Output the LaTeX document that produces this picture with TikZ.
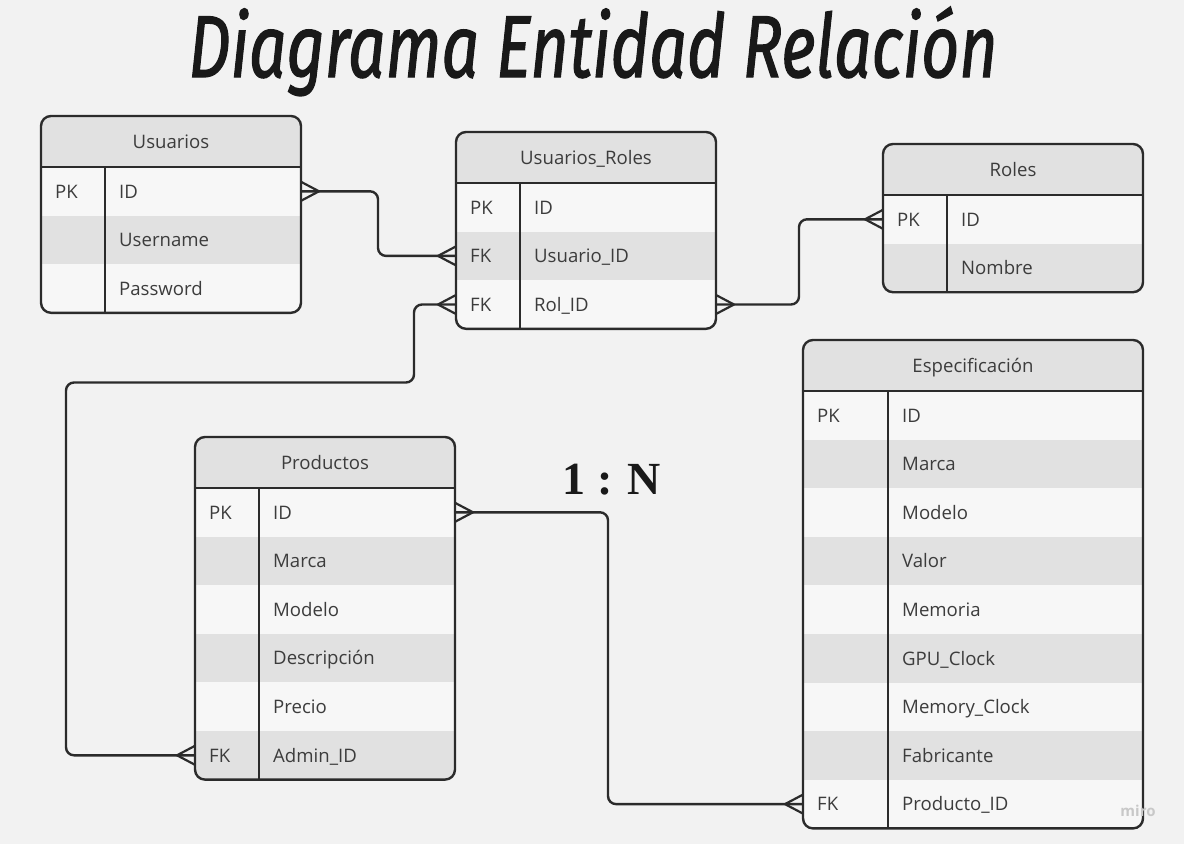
\documentclass[tikz,border=0pt]{standalone}
\usepackage{fontspec}
\setmainfont{Open Sans}
\newfontfamily\titlefont{Fira Sans}[ItalicFeatures={FakeBold=1.6}]
\newfontfamily\numfont{Liberation Serif}
\usetikzlibrary{calc}
\definecolor{bg}{HTML}{F2F2F2}
\definecolor{rowlight}{HTML}{F7F7F7}
\definecolor{rowgray}{HTML}{E1E1E1}
\definecolor{edge}{HTML}{2B2B2B}
\definecolor{ink}{HTML}{3C3C3C}
\definecolor{wm}{HTML}{C8C8C8}
\tikzset{
  tblborder/.style={draw=edge, line width=2.4pt, rounded corners=10pt},
  tblline/.style={draw=edge, line width=2.4pt},
  conn/.style={draw=edge, line width=2.4pt, rounded corners=8pt},
  foot/.style={draw=edge, line width=2.2pt, line join=round, line cap=round},
  txt/.style={text=ink, font=\fontsize{18.6}{22}\selectfont, inner sep=0pt},
  rowbox/.style={inner sep=0pt, outer sep=0pt, minimum height=48.6pt},
}
% name, x0, y0, width, divider offset, title, rows
\newcommand\ertable[7]{%
  \foreach \k/\f [count=\n] in {#7} {\xdef\nrows{\n}}
  \pgfmathsetmacro\tb{#3+51+48.6*\nrows}
  \begin{scope}
    \clip[rounded corners=10pt] (#2,#3) rectangle ({#2+#4},\tb);
    \fill[rowlight] (#2,#3) rectangle ({#2+#4},\tb);
    \fill[rowgray] (#2,#3) rectangle ({#2+#4},{#3+51});
    \foreach \k/\f [count=\i] in {#7} {
      \ifodd\i\relax\else
        \fill[rowgray] (#2,{#3+51+48.6*(\i-1)}) rectangle ({#2+#4},{#3+51+48.6*\i});
      \fi
    }
  \end{scope}
  \node[txt, anchor=base] (#1) at ({#2+#4/2},{#3+25.5+6.8}) {#6};
  \foreach \k/\f [count=\i] in {#7} {
    \node[rowbox, minimum width=#4pt, anchor=north west] (#1-\i) at (#2,{#3+51+48.6*(\i-1)}) {};
    \node[txt, anchor=base west] (#1-\i-key) at ($(#1-\i.west)+(14,6.8)$) {\k};
    \node[txt, anchor=base west] (#1-\i-field) at ($(#1-\i.west)+(#5+14,6.8)$) {\f};
  }
  \draw[tblline] ({#2+#5},{#3+51}) -- ({#2+#5},\tb);
  \draw[tblline] (#2,{#3+51}) -- ({#2+#4},{#3+51});
  \draw[tblborder] (#2,#3) rectangle ({#2+#4},\tb);
}
\newcommand\footE[1]{\draw[foot] ($(#1)+(0,-9.5)$) -- ($(#1)+(18,0)$) -- ($(#1)+(0,9.5)$);}
\newcommand\footW[1]{\draw[foot] ($(#1)+(0,-9.5)$) -- ($(#1)+(-18,0)$) -- ($(#1)+(0,9.5)$);}

\begin{document}
\begin{tikzpicture}[x=1pt,y=-1pt]
  \fill[bg] (0,0) rectangle (1184,844);
  \useasboundingbox (0,0) rectangle (1184,844);

  \begin{scope}[shift={(593,77)}, yscale=1.33]
    \node[transform shape, anchor=base, text=black!90, font=\titlefont\itshape\fontsize{66}{66}\selectfont] (title) at (0,0) {Diagrama Entidad Relación};
  \end{scope}

  \ertable{usr}{41}{116}{260}{64}{Usuarios}{PK/ID,/Username,/Password}
  \ertable{ur}{456}{132}{260}{64}{Usuarios\_Roles}{PK/ID,FK/Usuario\_ID,FK/Rol\_ID}
  \ertable{rol}{883}{144}{260}{64}{Roles}{PK/ID,/Nombre}
  \ertable{esp}{803}{340}{340}{85}{Especificación}{PK/ID,/Marca,/Modelo,/Valor,/Memoria,/GPU\_Clock,/Memory\_Clock,/Fabricante,FK/Producto\_ID}
  \ertable{prod}{195}{437}{260}{64}{Productos}{PK/ID,/Marca,/Modelo,/Descripción,/Precio,FK/Admin\_ID}

  % connectors
  \draw[conn] (usr-1.east) -- ++(77,0) |- (ur-2.west);
  \footE{usr-1.east}
  \footW{ur-2.west}

  \draw[conn] (rol-1.west) -- ++(-84,0) |- (ur-3.east);
  \footW{rol-1.west}
  \footE{ur-3.east}

  \draw[conn] (ur-3.west) -- ++(-42,0) -- ++(0,78) -| ([xshift=-129pt]prod-6.west) -- (prod-6.west);
  \footW{ur-3.west}
  \footW{prod-6.west}

  \draw[conn] (prod-1.east) -- ++(153,0) |- (esp-9.west);
  \footE{prod-1.east}
  \footW{esp-9.west}

  \node[anchor=base, font=\numfont\bfseries\fontsize{46}{46}\selectfont, text=black!90] (ratio) at (612,494) {1 : N};

  \node[anchor=base, font=\bfseries\fontsize{15}{15}\selectfont, text=wm] (miro) at (1138,816) {miro};
\end{tikzpicture}
\end{document}
